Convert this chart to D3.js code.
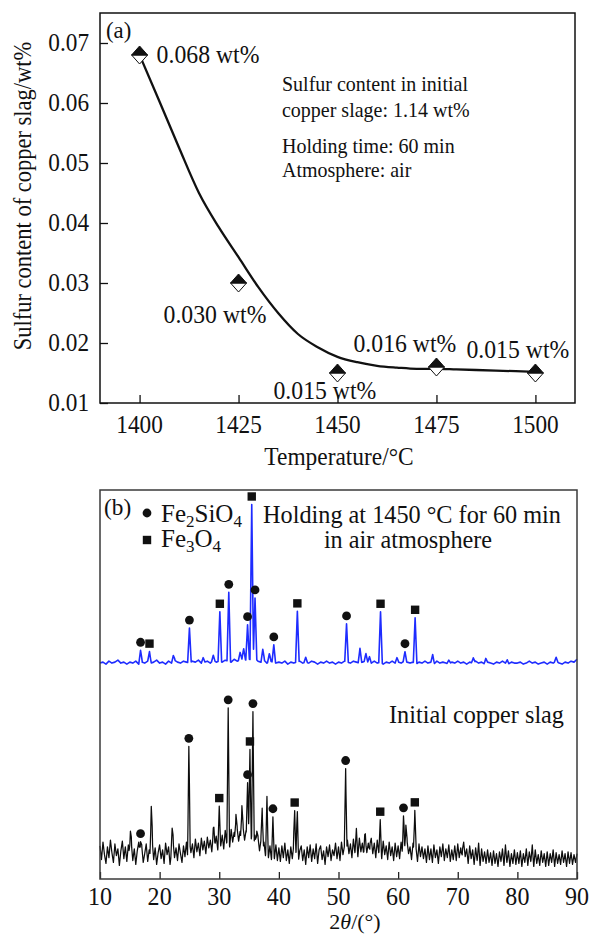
<!DOCTYPE html>
<html>
<head>
<meta charset="utf-8">
<script src="https://cdn.jsdelivr.net/npm/d3@7"></script>
<style>
  body { margin: 0; background: #fff; }
  svg { display: block; }
  text { font-family: "Liberation Serif", "Times New Roman", serif; fill: #111; }
</style>
</head>
<body>
<svg id="fig" width="590" height="934"></svg>
<script>
// ---------- (a) sulfur content of slag vs. temperature ----------
const temperatures = [1400, 1425, 1450, 1475, 1500];
const sulfurContent = [0.068, 0.030, 0.015, 0.016, 0.015];
const sulfurLabels = ["0.068 wt%", "0.030 wt%", "0.015 wt%", "0.016 wt%", "0.015 wt%"];
// fitted trend line
const fitTemperatures = [1400, 1405, 1410, 1415, 1420, 1425, 1430, 1435, 1440, 1445, 1450, 1455, 1460, 1465, 1470, 1475, 1480, 1490, 1500];
const fitSulfur = [0.068, 0.0603, 0.0525, 0.0450, 0.0393, 0.0343, 0.0293, 0.0250, 0.0215, 0.0193, 0.0177, 0.0168, 0.0162, 0.0159, 0.0157, 0.0157, 0.0156, 0.0154, 0.0152];
const temperatureTicks = [1400, 1425, 1450, 1475, 1500];
const sulfurTicks = [0.01, 0.02, 0.03, 0.04, 0.05, 0.06, 0.07];
const conditionLines = ["Sulfur content in initial", "copper slage: 1.14 wt%", "Holding time: 60 min", "Atmosphere: air"];

// ---------- (b) XRD patterns ----------
const twoThetaTicks = [10, 20, 30, 40, 50, 60, 70, 80, 90];
// after holding in air: background every 0.5 deg from 10 to 90
const airBackground = [
  2,3,1,4,2,3,5,2,3,1,  3,2,4,1,3,2,4,2,3,5,  2,3,1,4,2,5,3,2,4,3,  2,4,3,5,2,3,4,2,5,3,
  4,3,5,4,3,6,4,5,7,5,  6,5,7,4,3,5,2,4,3,2,  3,2,4,1,3,2,3,4,2,3,  2,4,3,1,3,2,4,2,3,1,
  3,2,4,3,2,4,3,2,3,4,  3,2,4,2,3,1,3,2,4,2,  3,2,4,3,2,3,1,3,2,4,  2,3,1,4,2,3,2,1,3,2,
  4,2,3,1,3,2,4,2,3,1,  3,2,1,3,2,4,2,1,3,2,  2,3,1,2,4,2,3,1,2,3,  1,3,2,4,2,1,3,2,4,3,
  6
];
const airOffset = 220;
// [2theta, height, phase]  s = Fe2SiO4, m = Fe3O4
const airPeaks = [
  [16.8, 13, "s"], [18.3, 11, "m"], [22.3, 6, null], [25.0, 36, "s"], [27.3, 5, null],
  [29.0, 5, null], [30.1, 51, "m"], [31.6, 71, "s"], [33.5, 8, null], [34.1, 10, null],
  [34.75, 36, "s"], [35.45, 160, "m"], [36.0, 62, "s"], [37.3, 12, null], [38.4, 8, null],
  [39.15, 18, "s"], [43.1, 52, "m"], [44.5, 5, null], [51.35, 39, "s"], [53.6, 15, null],
  [54.6, 8, null], [55.2, 6, null], [57.05, 52, "m"], [59.8, 5, null], [61.15, 10, "s"],
  [62.85, 47, "m"], [65.8, 9, null], [68.5, 4, null], [72.6, 5, null], [74.7, 5, null],
  [78.3, 4, null], [86.5, 4, null]
];
// initial slag: background every 0.25 deg from 10 to 90
const initialBackground = [
  34,20,38,25,16,33,22,40,27,17,36,24,31,14,29,39,21,33,18,35,
  24,37,19,31,15,29,38,22,34,17,26,36,18,30,23,40,20,32,15,27,
  35,21,30,16,37,25,33,15,28,39,22,32,19,36,26,17,34,23,38,20,
  39,27,36,22,41,28,37,24,42,30,39,26,43,32,40,28,46,34,44,30,
  48,34,45,31,50,37,46,33,51,38,48,35,52,39,49,36,53,40,50,37,
  49,36,47,34,45,32,43,29,40,26,38,24,36,22,34,20,33,21,35,19,
  32,18,34,22,37,19,30,16,33,21,35,24,31,17,29,34,19,30,15,33,
  22,35,18,31,21,36,16,30,34,20,29,15,33,23,35,19,30,24,37,21,
  33,19,38,25,34,21,40,26,36,22,41,27,38,23,42,28,37,24,40,27,
  37,23,41,26,37,22,40,27,35,21,39,25,34,20,38,24,33,19,37,23,
  34,21,38,25,35,22,39,26,33,20,37,24,32,18,36,23,33,21,31,17,
  34,20,31,17,35,22,30,16,33,23,36,19,31,22,35,18,30,20,34,19,
  36,22,32,17,37,23,31,16,34,21,30,15,32,19,29,14,31,18,28,16,
  30,17,27,14,29,16,26,13,28,18,31,14,27,17,29,13,26,16,30,15,
  27,16,29,13,26,17,31,14,28,18,27,13,30,16,25,14,29,17,26,13,
  28,14,26,17,30,13,27,16,25,15,29,17,26,13,28,16,27,15,25,17,
  26
];
const initialPeaks = [
  [15.1, 20, null], [16.8, 14, "s"], [18.6, 45, null], [22.1, 20, null], [24.9, 105, "s"],
  [29.1, 12, null], [30.0, 27, "m"], [31.5, 130, "s"], [32.8, 28, null], [33.8, 36, null],
  [34.75, 62, "s"], [35.15, 92, "m"], [35.65, 133, "s"], [36.3, 15, null], [37.2, 44, null],
  [38.0, 49, null], [39.0, 31, "s"], [42.65, 42, "m"], [43.1, 44, null], [51.2, 90, "s"],
  [53.0, 14, null], [54.4, 12, null], [55.3, 10, null], [57.0, 26, "m"], [60.9, 34, "s"],
  [61.3, 30, null], [62.8, 45, "m"], [70.8, 10, null], [73.5, 8, null], [78.0, 8, null],
  [82.5, 8, null]
];

const svg = d3.select("#fig");

function addText(g, x, y, str, size, sx = 1, anchor = "start") {
  return g.append("text")
    .attr("transform", `translate(${x},${y}) scale(${sx},1)`)
    .attr("font-size", size)
    .attr("text-anchor", anchor)
    .text(str);
}

// ================= panel (a) =================
const A = { left: 100, right: 575, top: 13, bottom: 403 };
const xA = d3.scaleLinear().domain([1390, 1510]).range([A.left, A.right]);
const yA = d3.scaleLinear().domain([0.01, 0.075]).range([A.bottom, A.top]);
const gA = svg.append("g");

// inward ticks
gA.append("g").attr("transform", `translate(0,${A.bottom})`)
  .call(d3.axisTop(xA).tickValues(temperatureTicks).tickSize(8).tickFormat(""))
  .call(g => { g.select(".domain").remove(); g.selectAll("line").attr("stroke", "#111").attr("stroke-width", 1.3); });
gA.append("g").attr("transform", `translate(${A.left},0)`)
  .call(d3.axisRight(yA).tickValues(sulfurTicks).tickSize(8).tickFormat(""))
  .call(g => { g.select(".domain").remove(); g.selectAll("line").attr("stroke", "#111").attr("stroke-width", 1.3); });

gA.append("rect").attr("x", A.left).attr("y", A.top)
  .attr("width", A.right - A.left).attr("height", A.bottom - A.top)
  .attr("fill", "none").attr("stroke", "#111").attr("stroke-width", 1.5);

temperatureTicks.forEach(t => addText(gA, xA(t), 433, String(t), 25, 0.93, "middle"));
sulfurTicks.forEach(v => addText(gA, 89, yA(v) + 8, v.toFixed(2), 25, 0.93, "end"));

addText(gA, 339, 465, "Temperature/°C", 26, 0.9, "middle");
gA.append("text")
  .attr("transform", `translate(31,196) rotate(-90) scale(0.9,1)`)
  .attr("font-size", 25).attr("text-anchor", "middle")
  .text("Sulfur content of copper slag/wt%");

addText(gA, 106, 38, "(a)", 24, 0.95);

// fitted curve
const fitLine = d3.line().x(d => xA(d[0])).y(d => yA(d[1])).curve(d3.curveMonotoneX);
gA.append("path")
  .datum(fitTemperatures.map((t, i) => [t, fitSulfur[i]]))
  .attr("d", fitLine).attr("fill", "none").attr("stroke", "#111").attr("stroke-width", 2.3);

// half-filled diamond markers
const dw = 8, dh = 9;
temperatures.forEach((t, i) => {
  const cx = xA(t), cy = yA(sulfurContent[i]);
  gA.append("path")
    .attr("d", `M${cx - dw},${cy} L${cx},${cy + dh} L${cx + dw},${cy} Z`)
    .attr("fill", "#fff").attr("stroke", "#111").attr("stroke-width", 1);
  gA.append("path")
    .attr("d", `M${cx - dw},${cy} L${cx},${cy - dh} L${cx + dw},${cy} Z`)
    .attr("fill", "#111").attr("stroke", "#111").attr("stroke-width", 1);
});

// value labels (offsets from each marker)
const labelNudge = [[17, 8], [-75, 40], [-64, 26], [-83, -15], [-69, -15]];
temperatures.forEach((t, i) => {
  addText(gA, xA(t) + labelNudge[i][0], yA(sulfurContent[i]) + labelNudge[i][1], sulfurLabels[i], 25, 0.95);
});

// test conditions
[91, 117, 153, 177].forEach((y, i) => addText(gA, 282, y, conditionLines[i], 21.5, 0.93));

// ================= panel (b) =================
const B = { left: 100, right: 577, top: 490, bottom: 879 };
const xB = d3.scaleLinear().domain([10, 90]).range([B.left, B.right]);
const yB = d3.scaleLinear().domain([0, 400]).range([B.bottom, B.top]);
const gB = svg.append("g");

gB.append("g").attr("transform", `translate(0,${B.bottom})`)
  .call(d3.axisTop(xB).tickValues(twoThetaTicks).tickSize(7).tickFormat(""))
  .call(g => { g.select(".domain").remove(); g.selectAll("line").attr("stroke", "#222").attr("stroke-width", 1.3); });

twoThetaTicks.forEach(t => addText(gB, xB(t), 905, String(t), 24.5, 0.98, "middle"));

const xTitle = gB.append("text")
  .attr("transform", "translate(355,929)")
  .attr("font-size", 22).attr("text-anchor", "middle");
xTitle.append("tspan").text("2");
xTitle.append("tspan").attr("font-style", "italic").text("θ");
xTitle.append("tspan").text("/(°)");

// pattern = background (linear between samples) + triangular peaks
function buildTrace(step, background, peaks, halfWidth, offset) {
  const bx = background.map((_, i) => 10 + i * step);
  const bgAt = d3.scaleLinear().domain(bx).range(background);
  const xs = new Set(bx);
  peaks.forEach(p => { xs.add(p[0] - halfWidth); xs.add(p[0]); xs.add(p[0] + halfWidth); });
  const grid = Array.from(xs).filter(x => x >= 10 && x <= 90).sort((a, b) => a - b);
  const value = x => offset + bgAt(x) + d3.sum(peaks, p => p[1] * Math.max(0, 1 - Math.abs(x - p[0]) / halfWidth));
  return { points: grid.map(x => [x, value(x)]), value };
}

const trace = d3.line().x(d => xB(d[0])).y(d => yB(d[1]));

const initial = buildTrace(0.25, initialBackground, initialPeaks, 0.22, 0);
gB.append("path").datum(initial.points).attr("d", trace)
  .attr("fill", "none").attr("stroke", "#0d0d0d").attr("stroke-width", 1.25).attr("stroke-linejoin", "round");

const air = buildTrace(0.5, airBackground, airPeaks, 0.3, airOffset);
gB.append("path").datum(air.points).attr("d", trace)
  .attr("fill", "none").attr("stroke", "#1e2cff").attr("stroke-width", 1.6).attr("stroke-linejoin", "round");

function phaseMark(g, cx, cy, phase) {
  if (phase === "s") {
    g.append("circle").attr("cx", cx).attr("cy", cy).attr("r", 4.4).attr("fill", "#111");
  } else {
    g.append("rect").attr("x", cx - 4.2).attr("y", cy - 4.2).attr("width", 8.4).attr("height", 8.4).attr("fill", "#111");
  }
}
[[initialPeaks, initial], [airPeaks, air]].forEach(([peaks, tr]) => {
  peaks.filter(p => p[2]).forEach(p => phaseMark(gB, xB(p[0]), yB(tr.value(p[0])) - 8, p[2]));
});

gB.append("rect").attr("x", B.left).attr("y", B.top)
  .attr("width", B.right - B.left).attr("height", B.bottom - B.top)
  .attr("fill", "none").attr("stroke", "#3a3a3a").attr("stroke-width", 1.5);

addText(gB, 104, 515, "(b)", 24, 0.97);

// legend
phaseMark(gB, 147, 513, "s");
phaseMark(gB, 147, 540, "m");
function formula(x, y, parts) {
  const t = gB.append("text").attr("transform", `translate(${x},${y})`).attr("font-size", 25);
  let low = false;
  parts.forEach(([s, sub]) => {
    const span = t.append("tspan").text(s);
    if (sub && !low) { span.attr("font-size", 17).attr("dy", 5); low = true; }
    else if (!sub && low) { span.attr("dy", -5); low = false; }
    else if (sub) span.attr("font-size", 17);
  });
}
formula(161, 522, [["Fe"], ["2", true], ["SiO"], ["4", true]]);
formula(161, 547, [["Fe"], ["3", true], ["O"], ["4", true]]);

addText(gB, 412, 523, "Holding at 1450 °C for 60 min", 25, 0.97, "middle");
addText(gB, 408, 548, "in air atmosphere", 25, 0.97, "middle");
addText(gB, 564, 723, "Initial copper slag", 25, 0.97, "end");
</script>
</body>
</html>
